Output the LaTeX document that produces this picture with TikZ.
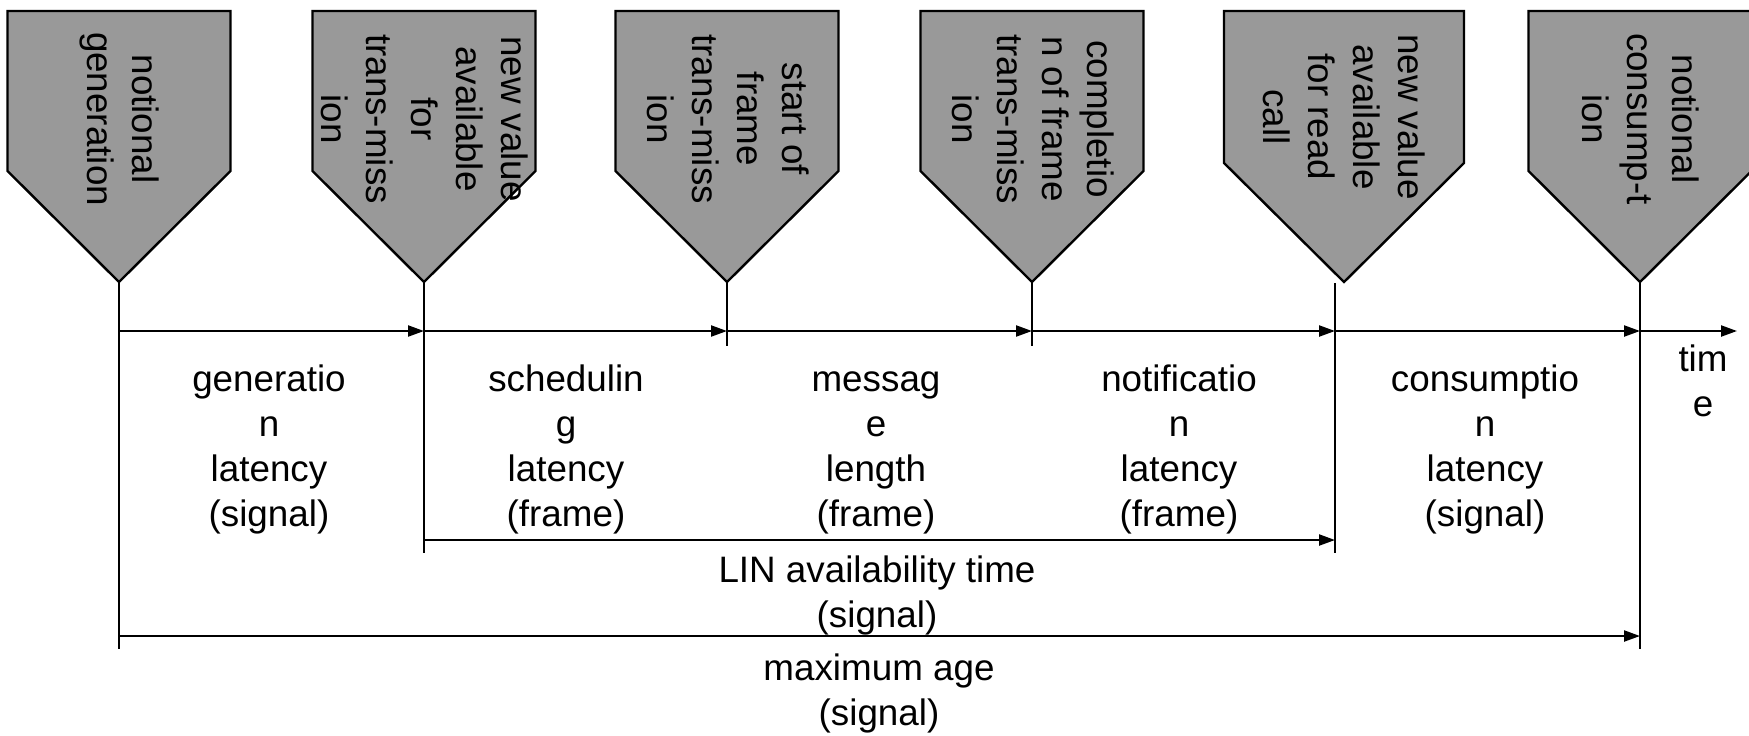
\documentclass[tikz,border=0pt]{standalone}
\usepackage{fontspec}
\setmainfont{Liberation Sans}
\usetikzlibrary{arrows.meta}
\definecolor{markfill}{RGB}{153,153,153}
\tikzset{
  markbox/.style={draw=black, fill=markfill, line width=1.2pt, line join=miter},
  textblock/.style={align=center, inner sep=0pt,
    font=\fontsize{18.4}{22.5}\selectfont},
  marklabel/.style={textblock, rotate=-90},
  spanlabel/.style={textblock},
  tick/.style={draw=black, line width=0.9pt},
  span/.style={draw=black, line width=1.1pt, -{Triangle[length=8pt,width=5.5pt]}}
}
% event marker: name, centre x, half width, shoulder y
\newcommand\eventmark[4]{%
  \draw[markbox] (#2-#3,11) -- (#2+#3,11) -- (#2+#3,#4) -- (#2,282) -- (#2-#3,#4) -- cycle;
  \coordinate (#1) at (#2,282);
}
\begin{document}
\begin{tikzpicture}[x=0.5pt, y=-0.5pt]
  \useasboundingbox (0,0) rectangle (1749,735);

  % event markers
  \eventmark{t1}{119}{111.5}{171}
  \eventmark{t2}{424}{111.5}{171}
  \eventmark{t3}{727}{111.5}{171}
  \eventmark{t4}{1032}{111.5}{171}
  \eventmark{t5}{1344}{120}{163}
  \eventmark{t6}{1640}{111.5}{171}

  \node[marklabel] (e1) at (120,119) {notional\\generation};
  \node[marklabel] (e2) at (425,119) {new value\\available\\for\\trans-miss\\ion};
  \node[marklabel] (e3) at (728,119) {start of\\frame\\trans-miss\\ion};
  \node[marklabel] (e4) at (1033,119) {completio\\n of frame\\trans-miss\\ion};
  \node[marklabel] (e5) at (1344,117) {new value\\available\\for read\\call};
  \node[marklabel] (e6) at (1641,119) {notional\\consump-t\\ion};

  % points on the time axis
  \coordinate (a1) at (119,331);
  \coordinate (a2) at (424,331);
  \coordinate (a3) at (727,331);
  \coordinate (a4) at (1032,331);
  \coordinate (a5) at (1335,331);
  \coordinate (a6) at (1640,331);
  \coordinate (aend) at (1737,331);

  % lower ends of the event lines
  \coordinate (t5s) at (1335,283);
  \coordinate (b1) at (119,649);
  \coordinate (b2) at (424,553);
  \coordinate (b3) at (727,346);
  \coordinate (b4) at (1032,346);
  \coordinate (b5) at (1335,553);
  \coordinate (b6) at (1640,649);

  \draw[tick] (t1) -- (b1);
  \draw[tick] (t2) -- (b2);
  \draw[tick] (t3) -- (b3);
  \draw[tick] (t4) -- (b4);
  \draw[tick] (t5s) -- (b5);
  \draw[tick] (t6) -- (b6);

  % time axis
  \draw[span] (a1) -- (a2);
  \draw[span] (a2) -- (a3);
  \draw[span] (a3) -- (a4);
  \draw[span] (a4) -- (a5);
  \draw[span] (a5) -- (a6);
  \draw[span] (a6) -- (aend);
  \node[spanlabel] (time) at (1703,380.5) {tim\\e};

  % interval labels
  \node[spanlabel] (l1) at (269,449.5) {generatio\\n\\latency\\(signal)};
  \node[spanlabel] (l2) at (566,449.5) {schedulin\\g\\latency\\(frame)};
  \node[spanlabel] (l3) at (876,449.5) {\vphantom{(}messag\\e\\length\\(frame)};
  \node[spanlabel] (l4) at (1179,449.5) {notificatio\\n\\latency\\(frame)};
  \node[spanlabel] (l5) at (1485,449.5) {consumptio\\n\\latency\\(signal)};

  % LIN availability time
  \coordinate (lin1) at (424,540);
  \coordinate (lin2) at (1335,540);
  \draw[span] (lin1) -- (lin2);
  \node[spanlabel] (lin) at (877,595.5) {LIN availability time\\(signal)};

  % maximum age
  \coordinate (age1) at (119,636);
  \coordinate (age2) at (1640,636);
  \draw[span] (age1) -- (age2);
  \node[spanlabel] (age) at (879,693.5) {maximum age\\(signal)};
\end{tikzpicture}
\end{document}
